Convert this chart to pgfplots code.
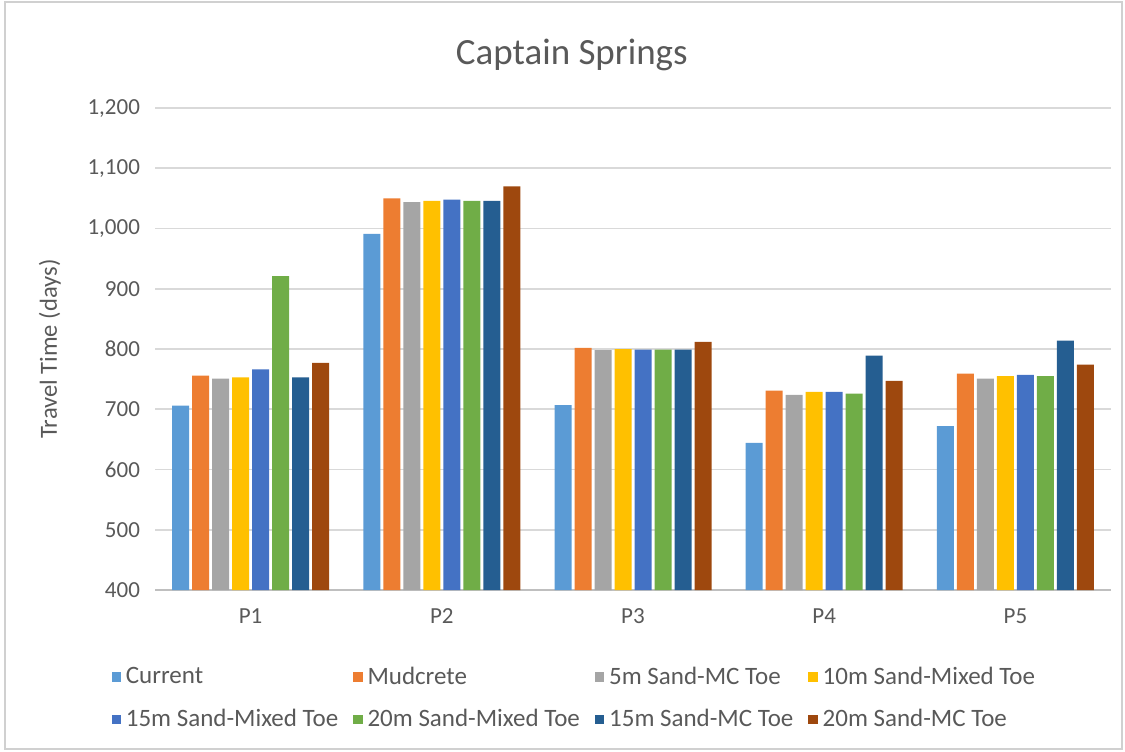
\documentclass[border=0pt]{standalone}
\usepackage{pgfplots}
\usepackage{pgfplotstable}
\pgfplotsset{compat=1.18}
\usepackage{fontspec}
\setmainfont{Carlito}

\definecolor{txt}{HTML}{595959}
\definecolor{gridc}{HTML}{D9D9D9}
\definecolor{axc}{HTML}{BFBFBF}
\definecolor{frame}{HTML}{D0D0D0}
\definecolor{cA}{HTML}{5B9BD5}
\definecolor{cB}{HTML}{ED7D31}
\definecolor{cC}{HTML}{A5A5A5}
\definecolor{cD}{HTML}{FFC000}
\definecolor{cE}{HTML}{4472C4}
\definecolor{cF}{HTML}{70AD47}
\definecolor{cG}{HTML}{255E91}
\definecolor{cH}{HTML}{9E480E}

% Travel time (days) per point P1..P5
\pgfplotstableread{
x cur mud sMC5 sMx10 sMx15 sMx20 sMC15 sMC20
0 706  756  751  753  766  921  753  777
1 991  1050 1044 1046 1048 1046 1046 1070
2 707  802  798  800  799  799  799  812
3 644  731  724  729  729  726  789  747
4 672  759  751  755  757  755  814  774
}\traveltime

\begin{document}
\begin{tikzpicture}[x=1pt,y=1pt]
\useasboundingbox (0,0) rectangle (562.5,375.5);
\draw[frame, line width=0.7pt] (2.5,1) rectangle (561,374.5);
\begin{axis}[
  at={(77.5pt,80.5pt)}, anchor=south west,
  scale only axis, width=478pt, height=241pt,
  ymin=400, ymax=1200, ytick={400,500,...,1200},
  xmin=-0.5, xmax=4.5, xtick={0,1,2,3,4},
  xticklabels={P1,P2,P3,P4,P5},
  ybar=1.5pt, bar width=8.5pt,
  ymajorgrids, grid style={gridc, line width=0.8pt},
  axis x line*=bottom, axis y line*=left,
  x axis line style={axc, line width=0.8pt, -},
  y axis line style={draw=none},
  major tick length=0pt,
  tick label style={font=\fontsize{11.5}{13}\selectfont, text=txt},
  yticklabel style={xshift=-4pt},
  xticklabel style={yshift=-6pt},
  /pgf/number format/assume math mode=true,
  /pgf/number format/1000 sep={,},
  ylabel={Travel Time (days)},
  every axis y label/.style={at={(axis description cs:-0.11,0.5)}, rotate=90, anchor=center,
    font=\fontsize{12.3}{14}\selectfont, text=txt},
  title={Captain Springs},
  every axis title/.style={at={(axis description cs:0.436,1.11)}, anchor=center,
    font=\fontsize{18.5}{20}\selectfont, text=txt},
  legend columns=4,
  legend image code/.code={\fill[#1] (0pt,-2.3pt) rectangle (4.6pt,2.3pt);},
  legend style={draw=none, fill=none,
    at={(axis description cs:-0.052,-0.142)}, anchor=north west,
    font=\fontsize{12.5}{14}\selectfont, text=txt,
    row sep=7pt,
    nodes={inner xsep=2.5pt},
    /tikz/every even column/.append style={column sep=5pt}},
  legend cell align=left,
]
\addplot[fill=cA, draw=none] table[x=x, y=cur]   {\traveltime};
\addplot[fill=cB, draw=none] table[x=x, y=mud]   {\traveltime};
\addplot[fill=cC, draw=none] table[x=x, y=sMC5]  {\traveltime};
\addplot[fill=cD, draw=none] table[x=x, y=sMx10] {\traveltime};
\addplot[fill=cE, draw=none] table[x=x, y=sMx15] {\traveltime};
\addplot[fill=cF, draw=none] table[x=x, y=sMx20] {\traveltime};
\addplot[fill=cG, draw=none] table[x=x, y=sMC15] {\traveltime};
\addplot[fill=cH, draw=none] table[x=x, y=sMC20] {\traveltime};
\legend{Current, Mudcrete, 5m Sand-MC Toe, 10m Sand-Mixed Toe,
        15m Sand-Mixed Toe, 20m Sand-Mixed Toe, 15m Sand-MC Toe, 20m Sand-MC Toe}
\end{axis}
\end{tikzpicture}
\end{document}
